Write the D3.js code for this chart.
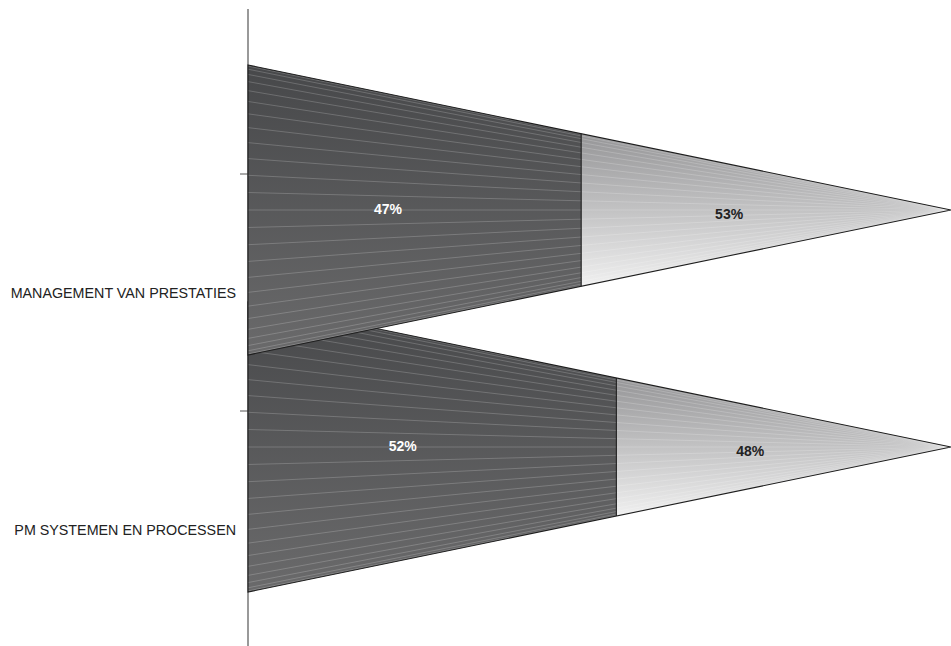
<!DOCTYPE html>
<html><head><meta charset="utf-8">
<script src="https://cdn.jsdelivr.net/npm/d3@7/dist/d3.min.js"></script>
<style>body{margin:0;background:#fff}svg{display:block}</style>
</head><body>
<svg id="c" width="951" height="646"></svg>
<script>
const categories = ["MANAGEMENT VAN PRESTATIES", "PM SYSTEMEN EN PROCESSEN"];
const seriesA = [47.4, 52.4];
const seriesB = [52.6, 47.6];

const W = 951, H = 646;
const svg = d3.select("#c");
const defs = svg.append("defs");

const x = d3.scaleLinear().domain([0, 100]).range([248, 951]);
const y = d3.scaleBand().domain(categories).range([174, 648]).padding(0);

const depthShift = 82.5;
const halfH = 145;
const font = "Liberation Sans, Arial, sans-serif";

const gA = defs.append("linearGradient").attr("id", "gA").attr("x1", 0).attr("y1", 0).attr("x2", 0).attr("y2", 1);
gA.append("stop").attr("offset", "0%").attr("stop-color", "#47484a");
gA.append("stop").attr("offset", "100%").attr("stop-color", "#6a6a6b");
const gB = defs.append("linearGradient").attr("id", "gB").attr("x1", 0).attr("y1", 0).attr("x2", 0).attr("y2", 1);
gB.append("stop").attr("offset", "0%").attr("stop-color", "#959597");
gB.append("stop").attr("offset", "100%").attr("stop-color", "#f0f0f0");

svg.append("line").attr("x1", x(0)).attr("x2", x(0)).attr("y1", 9).attr("y2", H)
  .attr("stroke", "#555").attr("stroke-width", 1.2);
categories.forEach(c => {
  svg.append("line").attr("x1", x(0) - 8).attr("x2", x(0)).attr("y1", y(c)).attr("y2", y(c))
    .attr("stroke", "#555").attr("stroke-width", 1);
  svg.append("text").attr("x", 236).attr("y", y(c) + y.bandwidth() / 2).attr("dy", "0.35em")
    .attr("text-anchor", "end").attr("font-family", font)
    .attr("font-size", 14.3).attr("fill", "#222").text(c);
});

const order = d3.range(categories.length).reverse();
order.forEach(i => {
  const c = categories[i];
  const cy = y(c) + y.bandwidth() / 2 - depthShift;
  const x0 = x(0), xe = x(seriesA[i] + seriesB[i]), xs = x(seriesA[i]);
  const hAt = xx => halfH * (xe - xx) / (xe - x0);
  const g = svg.append("g");
  const clipId = "clip" + i;
  defs.append("clipPath").attr("id", clipId).append("polygon")
    .attr("points", [[x0, cy - halfH], [xe, cy], [x0, cy + halfH]].map(p => p.join(",")).join(" "));

  const hs = hAt(xs);
  g.append("polygon").attr("points", [[x0, cy - halfH], [xs, cy - hs], [xs, cy + hs], [x0, cy + halfH]].map(p => p.join(",")).join(" "))
    .attr("fill", "url(#gA)");
  g.append("polygon").attr("points", [[xs, cy - hs], [xe, cy], [xs, cy + hs]].map(p => p.join(",")).join(" "))
    .attr("fill", "url(#gB)");

  const lines = g.append("g").attr("clip-path", `url(#${clipId})`);
  const N = 26;
  d3.range(1, N).forEach(k => {
    const yy = cy - halfH * Math.cos(Math.PI * k / N);
    lines.append("line").attr("x1", x0).attr("y1", yy).attr("x2", xe).attr("y2", cy)
      .attr("stroke", "#fff").attr("stroke-opacity", 0.28).attr("stroke-width", 0.7);
  });

  g.append("path").attr("d", `M${x0},${cy - halfH}L${xe},${cy}L${x0},${cy + halfH}Z`)
    .attr("fill", "none").attr("stroke", "#1e1e1e").attr("stroke-width", 1.1);
  g.append("line").attr("x1", xs).attr("x2", xs).attr("y1", cy - hs).attr("y2", cy + hs)
    .attr("stroke", "#1e1e1e").attr("stroke-width", 1.1);

  g.append("text").attr("x", x0 + (xs - x0) * 0.42).attr("y", cy - 1).attr("dy", "0.35em")
    .attr("text-anchor", "middle").attr("font-family", font)
    .attr("font-weight", "bold").attr("font-size", 14).attr("fill", "#fff").text(Math.round(seriesA[i]) + "%");
  g.append("text").attr("x", xs + (xe - xs) * 0.4).attr("y", cy + 4).attr("dy", "0.35em")
    .attr("text-anchor", "middle").attr("font-family", font)
    .attr("font-weight", "bold").attr("font-size", 14).attr("fill", "#222").text(Math.round(seriesB[i]) + "%");
});
</script>
</body></html>
